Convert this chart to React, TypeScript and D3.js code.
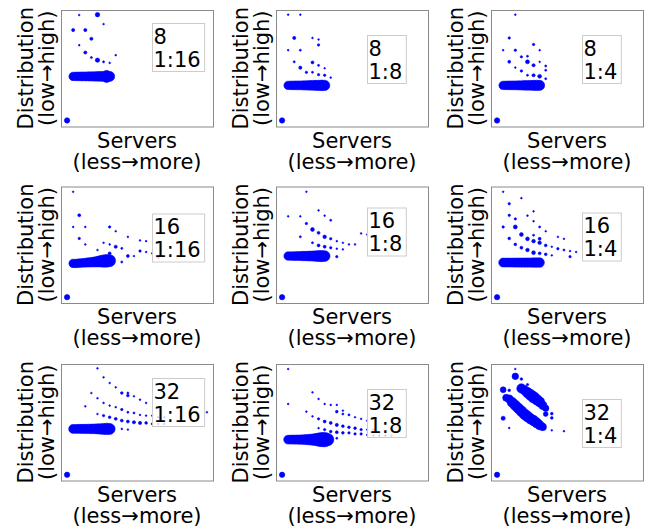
import React from 'react'
import * as d3 from 'd3'

// panel captions
const nodes = ['8', '8', '8', '16', '16', '16', '32', '32', '32']
const ratios = ['1:16', '1:8', '1:4', '1:16', '1:8', '1:4', '1:16', '1:8', '1:4']

// every dot is [server index, distribution (0-100), marker size]
const band8_16 = [[1, 43, 50], [1.5, 43, 52], [2, 43, 54], [2.5, 43, 56], [3, 43, 56], [3.5, 43, 58], [4, 43, 60], [4.5, 43, 62], [5, 43, 64], [5.5, 43, 68], [6, 43, 70], [6.5, 43, 74], [7, 43, 70], [6.5, 41.5, 50], [6.5, 44.5, 50]]
const band8_8 = [[1, 35.3, 50], [1.5, 35.3, 52], [2, 35.3, 54], [2.5, 35.3, 56], [3, 35.3, 56], [3.5, 35.3, 58], [4, 35.3, 62], [4.5, 35.3, 64], [5, 35.3, 68], [5.5, 35.3, 70], [6, 35.3, 74], [6.5, 35.3, 78], [7, 35.3, 74]]
const band8_4 = [[1, 35.3, 50], [1.5, 35.3, 52], [2, 35.3, 54], [2.5, 35.3, 56], [3, 35.3, 56], [3.5, 35.3, 58], [4, 35.3, 60], [4.5, 35.3, 64], [5, 35.3, 66], [5.5, 35.3, 68], [6, 35.3, 72], [6.5, 35.3, 74], [7, 35.3, 70]]
const band16_16 = [[1, 34, 50], [1.5, 34, 50], [2, 34.2, 52], [2.5, 34.4, 52], [3, 34.6, 56], [3.5, 34.8, 60], [4, 35, 64], [4.5, 35.2, 70], [5, 35.5, 78], [5.5, 35.8, 90], [6, 36, 105], [6.5, 36.2, 112], [7, 36.3, 98]]
const band16_8 = [[1, 40.3, 50], [1.5, 40.3, 52], [2, 40.3, 54], [2.5, 40.3, 56], [3, 40.3, 58], [3.5, 40.3, 62], [4, 40.3, 64], [4.5, 40.3, 68], [5, 40.3, 70], [5.5, 40.3, 78], [6, 40.3, 84], [6.5, 40.3, 88], [7, 40.3, 80]]
const band16_4 = [[1, 34.7, 55], [1.5, 34.7, 56], [2, 34.7, 56], [2.5, 34.7, 56], [3, 34.7, 58], [3.5, 34.7, 58], [4, 34.7, 59], [4.5, 34.7, 59], [5, 34.7, 60], [5.5, 34.7, 60], [6, 34.7, 62], [6.5, 34.7, 63], [7, 34.7, 62]]
const band32_16 = [[1, 44.3, 56], [1.5, 44.3, 56], [2, 44.3, 58], [2.5, 44.3, 59], [3, 44.3, 60], [3.5, 44.3, 62], [4, 44.3, 64], [4.5, 44.3, 67], [5, 44.3, 70], [5.5, 44.3, 77], [6, 44.3, 84], [6.5, 44.3, 91], [7, 44.3, 84]]
const band32_8 = [[1, 35.1, 55], [1.5, 35.1, 56], [2, 35.1, 57], [2.5, 35.1, 59], [3, 35.1, 62], [3.5, 35.1, 64], [4, 35.1, 70], [4.5, 35.1, 77], [5, 35.1, 88], [5.5, 35.1, 100], [6, 35.1, 120], [6.5, 35.1, 140], [7, 35.1, 145], [7.5, 35.1, 105]]

const scatter8_16 = [[0, 5.2, 20], [5, 96, 14], [2, 95.7, 2], [1, 82.8, 7], [3, 82.8, 7], [6, 87.9, 2], [4, 75.3, 7], [2, 69.8, 2], [3, 63.5, 7], [4, 59.2, 3], [5, 56.9, 13], [6, 55.5, 3], [7, 54.6, 2], [8, 61.2, 2]]
const scatter8_8 = [[0, 5.2, 20], [1, 96, 2], [3, 96, 2], [2, 76, 7], [5, 76, 2], [6, 74.7, 2], [6, 70, 4], [1, 65.5, 2], [3, 65.5, 3], [2, 55.5, 3], [5, 55, 6], [3, 50.5, 7], [6, 52.5, 3], [4, 46.5, 4], [5, 46.5, 3], [6, 44.5, 4], [7, 50, 2], [7, 44, 4], [8, 42, 2]]
const scatter8_4 = [[0, 5.2, 20], [3, 96, 2], [2, 76, 4], [1, 65.5, 2], [3, 65.5, 4], [6, 70.4, 4], [7, 65.5, 2], [2, 55.5, 6], [4, 59.8, 4], [5, 60.3, 3], [5, 55.5, 11], [3, 50.6, 2], [4, 47.7, 4], [6, 52.6, 7], [7, 55.5, 2], [8, 52, 3], [8, 48.3, 3], [5, 44, 3], [6, 44, 7], [7, 43.1, 10], [8, 41, 3]]
const scatter16_16 = [[0, 5, 20], [1, 95.5, 2], [2, 75.3, 6], [1, 65.3, 2], [3, 65.3, 2], [7, 65.3, 4], [8, 61.6, 2], [10, 56.8, 2], [2, 55.4, 4], [3, 50.3, 2], [6, 51.7, 2], [7, 50.3, 2], [8, 48.3, 7], [9, 46.9, 3], [10, 40.3, 6], [11, 40.3, 2], [12, 44.6, 4], [13, 43.8, 2], [12, 53.7, 2], [13, 53.1, 2], [14, 42.6, 2], [15, 38.9, 2], [9, 35.2, 3], [5, 45.5, 2], [7, 42.6, 6]]
const scatter16_8 = [[0, 5, 20], [4, 95.5, 2], [1, 74.4, 2], [3, 74.4, 2], [6, 79.5, 2], [7, 75, 2], [8, 71, 3], [4, 68.2, 4], [5, 63.1, 10], [6, 60.2, 6], [7, 56.8, 9], [8, 55.1, 4], [9, 53.1, 2], [10, 51.7, 2], [11, 50.3, 2], [12, 50.3, 2], [13, 59.7, 2], [14, 58.8, 2], [3, 56.8, 3], [5, 51.7, 3], [6, 49.4, 6], [7, 48.3, 6], [8, 47.4, 4], [9, 46.6, 2], [10, 46, 2], [9, 39.8, 4]]
const scatter16_4 = [[0, 5, 20], [1, 95.5, 2], [2, 85.2, 4], [4, 90, 2], [6, 78.7, 2], [2, 75.3, 4], [3, 72.2, 4], [5, 75, 2], [6, 70.2, 2], [1, 65.3, 4], [3, 65.3, 11], [4, 58.8, 10], [5, 55.1, 10], [6, 53.1, 9], [7, 55.1, 6], [7, 65.3, 3], [8, 61.6, 2], [6, 58.2, 3], [7, 51.7, 9], [8, 49.4, 5], [9, 48.3, 2], [10, 56.8, 2], [11, 55.1, 2], [10, 46.6, 4], [11, 45.5, 3], [12, 44.6, 2], [13, 43.8, 2], [2, 55.4, 5], [3, 50.3, 5], [4, 47.4, 6], [5, 45.5, 9], [6, 43.2, 10], [7, 42.6, 6], [8, 41.8, 5], [9, 40.9, 2], [12, 39.8, 4]]
const scatter32_16 = [[0, 4.9, 20], [5, 96.3, 2], [6, 88.6, 2], [7, 83.7, 2], [8, 80, 2], [9, 75.1, 5], [10, 75.1, 3], [10, 72.9, 5], [11, 72.3, 2], [12, 69.4, 2], [13, 66.6, 2], [4, 75.1, 2], [5, 70.6, 2], [6, 66.6, 2], [7, 64.3, 2], [8, 62.9, 2], [9, 60.9, 4], [10, 58.6, 3], [11, 58, 3], [12, 56.3, 2], [13, 55.7, 2], [14, 55.7, 2], [15, 54.3, 2], [16, 54.3, 2], [23, 58.6, 2], [3, 63.7, 2], [5, 57.1, 2], [6, 55.7, 4], [7, 54.3, 5], [8, 52.9, 6], [9, 51.4, 6], [10, 50.6, 6], [11, 50, 7], [12, 49.4, 7], [13, 49.4, 5], [14, 48.6, 3], [15, 48.6, 2], [16, 48.6, 2], [9, 44.3, 2], [10, 43.7, 2]]
const scatter32_8 = [[0, 4.9, 20], [1, 95.7, 2], [1, 65.7, 2], [5, 75.7, 2], [6, 70, 2], [7, 65.7, 2], [8, 64.9, 2], [9, 64.9, 2], [9, 59.1, 5], [10, 60, 2], [10, 57.1, 3], [11, 56.3, 3], [12, 54.3, 2], [13, 52.9, 2], [14, 51.4, 2], [4, 59.1, 2], [5, 55.1, 2], [6, 52.9, 4], [7, 50.6, 6], [8, 49.4, 6], [9, 47.7, 7], [10, 46.6, 5], [11, 45.7, 5], [12, 44.9, 5], [13, 43.7, 4], [14, 43.7, 2], [15, 43.7, 2], [6, 44.9, 2], [7, 43.7, 4], [8, 42, 5], [9, 41.4, 6], [10, 40.9, 5], [11, 40.9, 4], [12, 40, 4], [13, 40, 4], [14, 39.1, 2], [15, 38.6, 2], [16, 38.6, 2], [17, 38.6, 2], [18, 38.6, 2], [9, 36.3, 3]]
const scatter32_4 = [[0, 4.9, 20], [3, 95.7, 2], [3, 89.4, 30], [4, 87.1, 5], [1, 77.9, 24], [2, 77.4, 5], [2, 70, 45], [1.5, 71, 35], [1, 53.4, 12], [2, 45.1, 2], [5, 82.3, 4], [9, 57.4, 5], [9, 53.7, 5], [9, 43.1, 2], [11, 42.3, 2],
  [4, 79, 60], [4.5, 77.5, 60], [5, 75.5, 75], [5.5, 73.5, 85], [6, 71.5, 90], [6.5, 69.5, 80], [7, 67.5, 70], [7.5, 64.5, 50], [8, 62, 28], [8, 57, 16],
  [2.5, 67, 70], [3, 64.5, 75], [3.5, 62, 75], [4, 59.5, 80], [4.5, 57, 80], [5, 55, 80], [5.5, 53, 75], [6, 51.5, 75], [6.5, 49.5, 70], [7, 47.5, 60], [7.5, 46, 40]]

const panels = [
  band8_16.concat(scatter8_16), band8_8.concat(scatter8_8), band8_4.concat(scatter8_4),
  band16_16.concat(scatter16_16), band16_8.concat(scatter16_8), band16_4.concat(scatter16_4),
  band32_16.concat(scatter32_16), band32_8.concat(scatter32_8), scatter32_4,
]

// layout
const colX = [61, 276, 491]
const rowY = [10, 186.5, 364]
const W = 152
const H = 116.5
const legendTop = [13, 25, 25, 27, 21, 26, 14, 25, 35]
const FONT = 'DejaVu Sans'
const FS = 21

const charW: Record<string, number> = { ':': 0.337 }
const textW = (s: string) => s.split('').reduce((a, c) => a + (charW[c] ?? 0.636), 0) * FS

const x = d3.scaleLinear().domain([-1, 24]).range([0, W])
const y = d3.scaleLinear().domain([0, 100]).range([H, 0])
const r = d3.scaleSqrt().domain([0, 100]).range([0, 6])

function Panel({ i }: { i: number }) {
  const left = colX[i % 3]
  const top = rowY[Math.floor(i / 3)]
  const lw = Math.max(textW(nodes[i]), textW(ratios[i])) + 5
  const lt = legendTop[i]
  return (
    <g transform={`translate(${left},${top})`}>
      {panels[i].map((d, k) => (
        <circle key={k} cx={x(d[0])} cy={y(d[1])} r={r(d[2])} fill="#0000ff" stroke="#0000ff" strokeWidth={0.6} />
      ))}
      <rect x={0.5} y={0.5} width={W} height={H} fill="none" stroke="#8a8a8a" strokeWidth={1} />
      <rect x={91.5} y={lt + 0.5} width={lw} height={48} fill="#fff" fillOpacity={0.8} stroke="#cccccc" strokeWidth={1} />
      <text x={92.5} y={lt + 20.5} fontSize={FS} fontFamily={FONT} fill="#000">{nodes[i]}</text>
      <text x={92.5} y={lt + 43.5} fontSize={FS} fontFamily={FONT} fill="#000">{ratios[i]}</text>
      <text x={W / 2} y={H + 21} textAnchor="middle" fontSize={FS} fontFamily={FONT} fill="#000">Servers</text>
      <text x={W / 2} y={H + 42} textAnchor="middle" fontSize={FS} fontFamily={FONT} fill="#000">(less→more)</text>
      <g transform={`translate(0,${H / 2}) rotate(-90)`}>
        <text x={0} y={-28} textAnchor="middle" fontSize={FS} fontFamily={FONT} fill="#000">Distribution</text>
        <text x={0} y={-7.5} textAnchor="middle" fontSize={FS} fontFamily={FONT} fill="#000">(low→high)</text>
      </g>
    </g>
  )
}

export default function App() {
  return (
    <svg width={647} height={529} style={{ position: 'absolute', left: 0, top: 0, background: '#fff' }}>
      {d3.range(9).map(i => <Panel key={i} i={i} />)}
    </svg>
  )
}
